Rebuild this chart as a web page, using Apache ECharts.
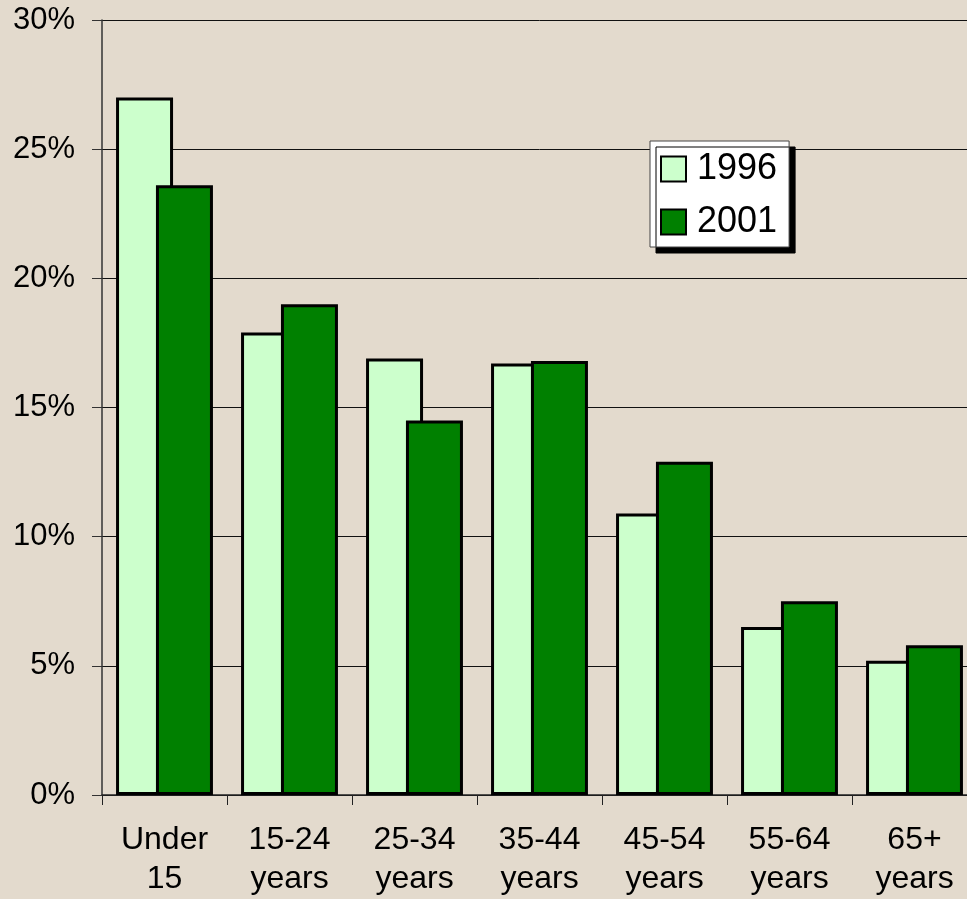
<!DOCTYPE html>
<html>
<head>
<meta charset="UTF-8">
<title>Age groups 1996 / 2001</title>
<style type="text/css">
	html, body { margin: 0; padding: 0; background: #e3dacd; overflow: hidden; }
	/* a bit wider than the window: the last category is cut off on the right, as in the original */
	#box { width: 977px; height: 899px; }
</style>
<script src="https://cdn.jsdelivr.net/npm/echarts@6/dist/echarts.min.js"></script>
</head>
<body>
<div id="box"></div>
<script>
	// data
	var categories = ['Under 15', '15-24 years', '25-34 years', '35-44 years', '45-54 years', '55-64 years', '65+ years'];
	var values1996 = [27.0, 17.9, 16.9, 16.7, 10.9, 6.5, 5.2];
	var values2001 = [23.6, 19.0, 14.5, 16.8, 12.9, 7.5, 5.8];
	var seriesNames = ['1996', '2001'];

	var chart = echarts.init(document.getElementById('box'));
	var font = 'Liberation Sans, Arial, sans-serif';

	var option = {
		backgroundColor: '#e3dacd',
		animation: false,
		grid: { left: 102, right: 0, top: 20, bottom: 104 },
		legend: {
			data: seriesNames,
			orient: 'vertical',
			left: 650,
			top: 141,
			icon: 'rect',
			itemWidth: 25,
			itemHeight: 25,
			itemGap: 17,
			padding: [10, 12, 7, 10],
			backgroundColor: '#fff',
			borderColor: '#444',
			borderWidth: 1,
			shadowColor: '#000',
			shadowBlur: 0,
			shadowOffsetX: 6,
			shadowOffsetY: 6,
			textStyle: { fontFamily: font, fontSize: 36, lineHeight: 36, color: '#000', padding: [0, 0, 0, 6] }
		},
		xAxis: {
			type: 'category',
			data: categories,
			axisLine: { lineStyle: { color: '#222', width: 1.5 } },
			axisTick: { show: true, length: 10, lineStyle: { color: '#222' } },
			axisLabel: {
				margin: 26,
				fontFamily: font,
				fontSize: 32,
				lineHeight: 39,
				color: '#000',
				interval: 0,
				formatter: function (v) { return v.replace(' ', '\n'); }
			}
		},
		yAxis: {
			type: 'value',
			min: 0,
			max: 30,
			interval: 5,
			axisLine: { show: true, lineStyle: { color: '#333', width: 1.5 } },
			axisTick: { show: true, length: 10, lineStyle: { color: '#333' } },
			splitLine: { lineStyle: { color: '#111', width: 1 } },
			axisLabel: {
				margin: 27,
				fontFamily: font,
				fontSize: 31,
				color: '#000',
				formatter: '{value}%'
			}
		},
		series: [{
			name: seriesNames[0],
			type: 'bar',
			data: values1996,
			barWidth: 57,
			barGap: '-30%',
			itemStyle: { color: '#ccffcc', borderColor: '#000', borderWidth: 3 }
		}, {
			name: seriesNames[1],
			type: 'bar',
			data: values2001,
			barWidth: 57,
			itemStyle: { color: '#008000', borderColor: '#000', borderWidth: 3 }
		}]
	};

	chart.setOption(option);
</script>
</body>
</html>
